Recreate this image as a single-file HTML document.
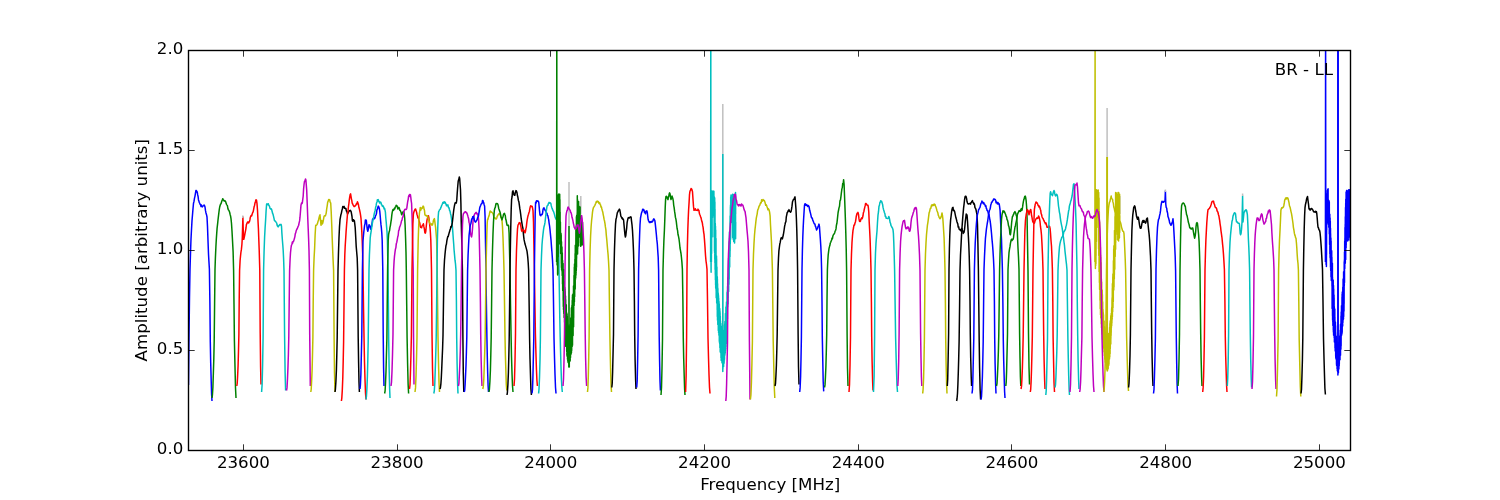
<!DOCTYPE html>
<html><head><meta charset="utf-8"><title>BR - LL bandpass</title>
<style>
html,body{margin:0;padding:0;background:#fff;}
body{width:1500px;height:500px;overflow:hidden;}
svg{display:block;}
svg text{font-family:"DejaVu Sans","Liberation Sans",sans-serif;font-size:16.67px;fill:#000;}
</style></head><body>
<svg width="1500" height="500" viewBox="0 0 1500 500">
<rect x="0" y="0" width="1500" height="500" fill="#ffffff"/>
<defs><clipPath id="ax"><rect x="188.5" y="50.5" width="1162.0" height="400.0"/></clipPath></defs>
<g clip-path="url(#ax)" fill="none" stroke-width="1.5" stroke-linejoin="round" stroke-linecap="butt">
<polyline points="188.5,385.0 189.0,337.3 189.5,297.1 190.0,269.4 190.5,253.0 191.0,239.0 191.5,229.5 192.0,220.6 192.5,214.8 193.0,208.8 193.5,203.2 194.0,201.4 194.5,198.1 195.0,196.1 195.4,193.5 195.9,190.6 196.4,190.5 196.8,191.9 197.2,191.8 197.7,194.9 198.1,196.5 198.5,199.9 198.9,201.1 199.3,202.5 199.8,203.5 200.2,204.5 200.6,204.7 201.0,206.5 201.4,205.0 201.9,206.2 202.3,206.9 202.7,206.1 203.2,205.9 203.6,205.6 204.1,205.0 204.6,205.8 205.0,207.0 205.5,210.7 206.0,213.0 206.5,214.7 207.0,217.0 207.5,226.6 208.0,240.8 208.5,254.0 208.9,261.0 209.4,269.3 209.9,303.4 210.3,342.1 210.7,362.8 211.2,380.9 211.6,394.3 212.0,401.0" stroke="#0000ff"/>
<polyline points="212.0,398.0 212.4,395.2 212.9,387.3 213.3,375.1 213.8,359.2 214.2,340.4 214.6,304.1 215.0,269.5 215.4,257.8 215.9,246.7 216.3,239.5 216.7,233.6 217.1,228.1 217.6,223.9 218.0,220.0 218.4,216.7 218.9,212.5 219.3,209.4 219.7,207.0 220.1,205.5 220.6,204.0 221.0,203.9 221.4,202.5 221.9,200.8 222.3,200.1 222.7,198.7 223.2,199.5 223.6,200.0 224.0,200.8 224.4,201.0 224.9,200.7 225.3,201.4 225.7,201.8 226.2,203.6 226.6,204.4 227.0,205.1 227.4,205.6 227.9,208.6 228.3,209.7 228.8,210.2 229.2,211.1 229.7,212.5 230.1,214.4 230.6,216.2 231.0,218.7 231.5,223.5 232.0,231.3 232.5,240.4 233.1,251.6 233.6,270.0 234.0,304.0 234.4,340.4 235.0,366.9 235.5,387.7 236.0,398.0" stroke="#008000"/>
<polyline points="236.8,386.0 237.2,383.5 237.6,376.3 238.1,365.2 238.5,350.8 238.9,333.8 239.2,300.3 239.6,270.1 240.1,260.5 240.5,256.2 240.9,252.5 241.4,249.4 241.9,244.5 242.3,237.9 242.9,217.1 243.5,239.2 243.8,239.3 244.2,237.5 244.6,235.7 245.1,232.9 245.6,230.3 246.0,228.0 246.4,224.7 246.9,223.7 247.3,222.5 247.7,222.0 248.1,221.9 248.6,223.0 249.0,221.7 249.4,221.7 249.9,219.9 250.3,217.4 250.8,216.1 251.2,215.5 251.7,215.9 252.2,214.0 252.7,212.6 253.2,211.6 253.6,209.6 254.1,206.8 254.5,205.7 255.0,203.0 255.5,201.5 256.0,199.8 256.5,200.2 257.0,203.6 257.5,210.3 258.0,220.9 258.4,228.2 258.8,239.4 259.2,250.0 259.8,270.7 260.2,333.0 260.6,366.9 261.0,384.5" stroke="#ff0000"/>
<polyline points="261.6,392.0 262.1,384.8 262.6,365.5 263.1,337.1 263.6,269.8 264.1,250.7 264.6,237.0 265.1,227.9 265.6,220.1 266.1,210.7 266.6,204.3 267.0,203.8 267.5,204.2 267.9,204.6 268.3,203.7 268.7,205.1 269.1,205.5 269.6,206.6 270.0,208.4 270.4,208.9 270.9,209.2 271.3,208.9 271.8,210.1 272.2,211.7 272.7,213.7 273.1,214.5 273.6,216.6 274.0,218.4 274.4,220.4 274.9,220.9 275.3,221.3 275.8,221.8 276.2,222.4 276.7,223.1 277.1,225.1 277.6,226.3 278.0,226.7 278.4,226.8 278.9,225.4 279.3,225.3 279.7,224.5 280.1,224.5 280.6,224.9 281.0,224.3 281.5,226.3 281.9,233.4 282.4,240.3 282.8,245.0 283.2,250.5 283.6,258.6 284.0,270.4 284.6,336.3 285.1,372.0 285.6,390.5" stroke="#00bfbf"/>
<polyline points="286.5,390.5 287.0,387.9 287.4,380.5 287.9,368.9 288.4,354.0 288.8,336.3 289.2,302.1 289.6,270.6 290.1,259.2 290.5,252.6 291.0,248.0 291.4,245.4 291.9,244.5 292.3,242.1 292.7,243.2 293.1,241.4 293.6,241.2 294.0,239.9 294.4,238.5 294.9,236.6 295.3,233.7 295.8,232.6 296.2,230.7 296.7,229.5 297.2,228.8 297.7,227.4 298.2,226.2 298.6,225.5 299.1,222.9 299.6,220.9 300.0,217.2 300.5,211.1 301.0,205.1 301.5,203.1 301.9,203.7 302.3,203.1 302.7,199.8 303.2,196.0 303.6,188.9 304.1,184.0 304.5,181.4 305.0,180.6 305.5,178.9 305.9,180.1 306.3,185.1 306.7,190.1 307.2,203.1 307.8,219.2 308.2,228.7 308.6,238.6 309.0,250.6 309.4,270.5 309.7,333.8 310.3,386.0" stroke="#bf00bf"/>
<polyline points="310.8,392.0 311.2,389.3 311.6,381.8 312.1,370.2 312.5,355.0 312.9,337.1 313.2,302.6 313.6,270.3 314.1,257.5 314.6,248.7 315.1,235.3 315.7,225.2 316.2,225.2 316.6,225.2 317.1,224.4 317.5,223.4 318.0,221.5 318.5,220.3 319.0,218.0 319.5,216.0 320.0,214.8 320.5,220.2 321.0,225.3 321.4,222.7 321.8,220.6 322.1,222.2 322.5,223.9 323.0,222.1 323.5,219.3 324.0,216.6 324.4,215.7 324.9,215.7 325.3,215.9 325.8,214.5 326.2,213.1 326.7,208.9 327.2,205.8 327.7,202.1 328.2,201.2 328.7,199.5 329.2,199.5 329.7,199.9 330.2,202.3 330.7,202.9 331.2,211.9 331.8,226.5 332.2,238.3 332.7,250.8 333.1,260.1 333.6,270.6 334.1,337.1 334.5,373.3 335.0,392.0" stroke="#bfbf00"/>
<polyline points="335.0,392.0 335.4,389.3 335.9,381.8 336.4,370.2 336.8,355.0 337.2,337.1 337.6,303.6 338.0,270.5 338.5,251.9 339.0,237.5 339.5,226.6 340.0,219.7 340.5,216.9 340.9,214.7 341.4,213.1 341.8,210.9 342.3,209.0 342.8,206.5 343.2,206.8 343.6,207.5 344.1,206.4 344.6,208.3 345.0,208.0 345.4,208.4 345.9,208.5 346.4,211.2 346.8,211.4 347.2,212.8 347.6,213.9 348.0,213.0 348.4,212.4 348.9,211.3 349.4,210.9 349.8,210.7 350.2,210.3 350.7,210.8 351.2,211.8 351.6,214.2 352.0,216.5 352.4,220.8 352.8,221.2 353.2,219.8 353.6,219.7 354.0,221.0 354.4,220.8 354.8,224.1 355.2,227.6 355.8,238.6 356.2,246.4 356.7,252.3 357.2,258.0 357.6,270.0 358.2,337.1 358.6,362.4 359.0,382.2 359.4,392.0" stroke="#000000"/>
<polyline points="341.4,401.0 341.8,398.1 342.3,390.1 342.8,377.5 343.2,361.3 343.6,342.1 344.0,305.7 344.4,270.3 344.8,255.0 345.2,246.0 345.6,239.7 346.1,231.5 346.6,224.7 347.0,220.0 347.5,213.9 348.0,211.3 348.4,207.0 348.9,203.5 349.3,199.8 349.7,197.1 350.2,194.4 350.6,193.9 351.0,196.3 351.4,198.8 351.8,200.5 352.2,203.2 352.7,204.0 353.2,205.2 353.6,205.6 354.1,206.6 354.6,206.5 355.1,205.9 355.5,205.7 356.0,204.9 356.5,203.5 356.9,203.9 357.4,201.8 357.9,202.9 358.4,204.4 358.9,207.5 359.4,209.1 359.8,211.0 360.2,212.8 360.6,215.3 361.0,218.3 361.4,224.5 361.8,231.6 362.2,240.8 362.6,252.5 363.0,270.4 363.5,306.2 364.1,341.2 364.5,361.7 365.0,379.6 365.5,392.9 366.0,399.5" stroke="#ff0000"/>
<polyline points="360.0,389.0 360.4,385.0 360.9,373.9 361.3,356.9 361.8,335.4 362.4,270.0 363.0,241.0 363.4,236.2 363.8,232.0 364.2,228.7 364.6,225.3 365.0,224.0 365.4,219.9 365.8,220.1 366.3,220.3 366.8,225.2 367.3,229.6 367.8,231.2 368.2,229.8 368.6,226.9 369.0,224.8 369.4,224.9 369.9,225.8 370.3,227.8 370.8,229.3 371.2,227.6 371.7,225.6 372.2,222.2 372.6,219.1 373.1,219.0 373.6,219.1 374.0,217.7 374.5,218.6 375.0,217.8 375.5,215.9 376.0,215.0 376.5,213.3 376.9,209.9 377.4,209.1 377.9,207.2 378.3,206.1 378.9,207.2 379.4,208.8 379.8,211.5 380.2,215.7 380.6,220.7 381.0,224.9 381.4,228.2 381.8,233.1 382.2,240.5 382.8,270.6 383.2,333.8 383.6,368.2 384.0,386.0" stroke="#0000ff"/>
<polyline points="366.0,399.5 366.4,396.7 366.9,388.7 367.4,376.3 367.8,360.2 368.2,341.2 368.6,305.3 369.0,270.0 369.4,255.2 369.8,246.6 370.2,238.2 370.6,234.6 371.1,231.6 371.6,228.3 372.0,225.2 372.4,223.0 372.9,220.3 373.4,218.1 373.8,216.2 374.2,214.0 374.7,212.0 375.2,210.2 375.6,207.5 376.1,205.7 376.5,203.0 377.0,202.0 377.4,199.7 377.9,200.9 378.3,199.6 378.8,201.5 379.2,201.5 379.6,203.0 380.1,202.6 380.6,202.0 381.0,202.8 381.5,204.7 382.0,205.1 382.4,206.4 382.9,205.9 383.4,206.4 383.8,207.8 384.2,209.1 384.6,208.4 385.0,210.2 385.4,212.1 385.8,217.7 386.2,222.0 386.6,226.9 387.0,231.6 387.4,240.2 388.0,270.2 388.4,305.4 388.7,340.4 389.1,366.9 389.6,387.7 390.0,398.0" stroke="#00bfbf"/>
<polyline points="384.6,393.5 385.1,390.8 385.5,383.2 386.0,371.4 386.4,356.1 386.9,337.9 387.2,305.9 387.6,269.4 388.2,240.4 388.6,234.6 389.1,232.0 389.6,230.5 390.0,227.3 390.4,225.6 390.9,222.2 391.4,219.1 391.8,215.2 392.2,212.4 392.6,210.7 393.0,209.5 393.4,210.4 393.9,209.7 394.4,208.3 394.8,208.9 395.2,207.3 395.7,206.6 396.2,205.3 396.6,205.7 397.1,206.0 397.5,207.6 397.9,209.0 398.4,208.1 398.8,207.3 399.3,208.2 399.8,210.2 400.2,210.2 400.6,211.2 401.1,212.5 401.6,214.7 402.0,214.3 402.5,213.1 403.0,211.8 403.5,211.5 403.9,212.1 404.3,214.6 404.7,218.0 405.1,224.8 405.6,238.8 406.0,252.4 406.3,269.8 406.7,304.2 407.1,337.9 407.6,363.5 408.1,383.6 408.6,393.5" stroke="#008000"/>
<polyline points="391.0,386.0 391.5,382.1 392.0,371.2 392.5,354.7 393.0,333.8 393.6,270.1 394.1,260.9 394.5,256.1 395.0,252.2 395.4,249.3 395.9,247.6 396.3,243.7 396.8,242.2 397.2,240.0 397.7,237.0 398.2,235.3 398.6,230.8 399.1,229.8 399.6,227.2 400.1,225.9 400.6,224.5 401.0,223.2 401.5,220.9 402.0,220.1 402.5,217.3 403.0,216.9 403.4,214.3 403.9,211.7 404.4,210.2 404.9,209.3 405.4,209.3 405.8,209.4 406.3,209.4 406.8,208.2 407.2,205.1 407.7,201.5 408.2,199.3 408.6,196.2 409.1,195.5 409.5,194.5 409.9,196.4 410.4,194.6 410.8,197.3 411.2,200.8 411.6,203.5 412.1,217.8 412.6,241.2 413.2,269.8 413.5,333.0 414.0,384.5" stroke="#bf00bf"/>
<polyline points="409.5,389.0 410.0,385.0 410.4,373.9 410.9,356.9 411.4,335.4 412.0,270.5 412.5,243.3 412.9,223.6 413.4,214.0 413.8,212.3 414.3,210.8 414.8,210.0 415.2,208.9 415.6,208.9 416.1,210.6 416.6,212.2 417.0,214.5 417.4,215.5 417.9,217.9 418.4,217.4 418.8,219.7 419.3,221.9 419.8,223.0 420.2,226.1 420.7,227.4 421.2,227.6 421.6,227.7 422.1,225.9 422.5,225.2 423.0,224.7 423.4,223.8 423.9,226.7 424.4,229.1 424.9,232.8 425.4,233.1 425.8,231.3 426.2,226.9 426.6,223.2 427.0,220.1 427.5,218.0 427.9,216.9 428.4,215.7 428.8,217.4 429.2,220.3 429.6,223.9 430.0,227.3 430.4,232.5 430.8,239.8 431.1,251.2 431.5,270.1 432.0,333.8 432.5,368.2 433.0,386.0" stroke="#ff0000"/>
<polyline points="415.0,392.0 415.5,387.9 416.0,376.5 416.5,359.1 417.0,337.1 417.6,270.3 418.2,240.6 418.6,228.6 419.0,219.0 419.4,213.5 419.9,210.0 420.3,207.4 420.8,210.2 421.2,208.1 421.7,208.7 422.2,208.3 422.7,207.0 423.1,206.1 423.6,206.7 424.1,209.3 424.5,210.5 424.9,214.7 425.4,215.3 425.8,215.4 426.3,215.9 426.8,215.6 427.2,215.9 427.7,216.4 428.2,218.9 428.6,219.1 429.1,221.4 429.6,222.6 430.1,223.9 430.6,224.0 431.0,224.5 431.5,223.9 432.0,225.2 432.5,224.7 433.0,222.9 433.4,220.6 433.9,219.4 434.4,218.6 434.8,221.4 435.2,224.5 435.6,227.4 436.1,233.5 436.6,239.8 437.2,269.3 437.6,304.4 438.0,337.1 438.5,362.4 439.0,382.2 439.5,392.0" stroke="#bfbf00"/>
<polyline points="433.8,393.5 434.3,390.8 434.8,383.2 435.2,371.4 435.7,356.1 436.2,337.9 436.6,307.9 437.0,269.7 437.4,239.6 437.8,226.5 438.2,216.7 438.6,211.9 439.1,210.8 439.5,209.8 439.9,209.5 440.4,209.0 440.8,207.5 441.2,207.0 441.7,205.3 442.1,204.5 442.5,203.6 442.9,202.5 443.4,202.3 443.8,203.3 444.3,201.8 444.7,202.6 445.2,202.2 445.6,203.5 446.1,204.2 446.5,205.7 447.0,205.0 447.4,205.7 447.9,204.9 448.3,206.9 448.7,207.9 449.1,207.8 449.6,210.6 450.0,210.9 450.5,213.7 451.0,215.4 451.5,219.0 452.0,223.0 452.4,226.6 452.9,233.2 453.3,239.0 453.7,244.0 454.1,250.2 454.6,255.6 455.0,260.2 455.5,263.9 456.0,270.4 456.4,300.2 456.7,337.9 457.1,363.5 457.6,383.6 458.0,393.5" stroke="#00bfbf"/>
<polyline points="440.0,389.0 440.4,387.7 440.9,383.8 441.3,377.7 441.7,369.5 442.1,359.6 442.6,348.2 443.0,335.4 443.5,301.6 444.0,269.7 444.5,260.0 445.0,254.2 445.5,249.4 446.0,245.4 446.4,244.3 446.9,240.5 447.3,238.6 447.8,236.4 448.2,236.5 448.7,234.5 449.1,233.1 449.6,231.6 450.0,229.9 450.4,229.0 450.9,226.5 451.4,227.0 451.8,225.3 452.3,222.7 452.8,218.4 453.2,214.6 453.7,210.3 454.2,207.1 454.7,204.5 455.2,202.7 455.8,202.9 456.3,203.0 456.8,199.8 457.2,193.4 457.7,186.8 458.2,181.2 458.8,179.3 459.3,176.9 459.7,178.7 460.1,184.5 460.5,189.8 460.9,203.2 461.2,220.6 461.6,235.4 462.0,249.8 462.4,269.7 462.9,337.1 463.3,373.3 463.8,392.0" stroke="#000000"/>
<polyline points="458.4,386.0 458.9,383.5 459.3,376.3 459.8,365.2 460.3,350.8 460.7,333.8 461.1,303.2 461.5,269.7 462.0,244.0 462.5,224.7 463.0,216.1 463.4,213.7 463.9,213.2 464.3,212.3 464.7,212.4 465.2,211.7 465.6,211.7 466.0,212.4 466.5,212.9 466.9,213.0 467.3,214.2 467.7,215.4 468.1,217.0 468.6,218.7 469.0,222.2 469.4,223.3 469.9,227.4 470.3,232.0 470.7,234.3 471.2,236.3 471.6,237.0 472.1,233.6 472.6,227.4 473.1,220.3 473.6,217.2 474.0,215.9 474.5,214.4 474.9,213.7 475.3,213.2 475.7,212.6 476.1,212.4 476.6,213.8 477.0,213.4 477.4,214.0 477.8,215.2 478.2,216.0 478.6,220.1 479.1,229.3 479.5,247.5 480.0,269.9 480.4,301.5 480.7,333.8 481.1,357.8 481.6,376.7 482.0,386.0" stroke="#bf00bf"/>
<polyline points="464.3,392.0 464.7,390.1 465.1,384.8 465.5,376.5 466.0,365.5 466.4,352.2 466.8,337.1 467.2,303.2 467.6,270.2 468.1,254.6 468.6,244.0 469.1,235.0 469.6,230.8 470.0,227.1 470.5,224.5 470.9,223.5 471.4,220.7 471.8,218.7 472.3,218.8 472.7,216.7 473.2,217.7 473.6,216.3 474.1,218.4 474.5,221.0 475.0,221.4 475.4,222.2 475.9,221.5 476.3,221.0 476.7,220.2 477.1,219.7 477.6,217.8 478.0,216.7 478.4,216.3 478.9,213.2 479.3,211.0 479.7,208.0 480.1,206.6 480.6,205.6 481.0,204.5 481.5,203.6 482.0,203.6 482.5,200.5 483.0,200.7 483.4,202.0 483.8,203.1 484.2,205.0 484.6,206.0 485.1,217.3 485.5,242.8 486.0,270.0 486.4,304.6 486.9,337.1 487.3,356.4 487.7,373.3 488.1,385.8 488.5,392.0" stroke="#0000ff"/>
<polyline points="482.8,389.0 483.3,386.4 483.8,379.1 484.2,367.7 484.7,352.9 485.2,335.4 485.6,303.6 486.0,270.3 486.4,251.7 486.8,235.2 487.2,223.2 487.6,219.1 488.0,219.2 488.5,217.0 488.9,216.2 489.4,214.2 489.8,212.2 490.2,210.9 490.7,211.5 491.1,212.2 491.6,212.1 492.0,212.4 492.4,212.9 492.9,213.5 493.3,214.3 493.7,216.4 494.1,217.9 494.6,217.8 495.0,217.9 495.4,218.3 495.9,219.0 496.3,218.9 496.8,218.0 497.2,216.1 497.7,215.8 498.1,214.8 498.6,214.2 499.0,213.5 499.4,213.8 499.9,214.3 500.3,215.2 500.7,216.2 501.1,217.3 501.6,219.0 502.0,220.4 502.5,226.9 503.0,237.7 503.5,252.6 504.0,270.0 504.5,302.5 505.0,336.3 505.4,355.3 505.9,372.0 506.3,384.4 506.8,390.5" stroke="#bfbf00"/>
<polyline points="489.0,392.0 489.4,389.3 489.9,381.8 490.4,370.2 490.8,355.0 491.2,337.1 491.6,303.9 492.0,269.8 492.5,249.6 493.0,233.4 493.5,221.7 494.0,214.1 494.4,210.0 494.9,208.0 495.3,207.3 495.7,205.0 496.1,203.5 496.6,203.6 497.0,203.8 497.4,203.6 497.9,204.4 498.3,206.1 498.7,208.4 499.1,209.5 499.6,210.9 500.0,212.0 500.5,214.2 501.0,217.2 501.5,218.1 502.0,219.9 502.5,218.0 503.0,216.9 503.5,214.4 504.0,213.6 504.4,213.4 504.9,214.6 505.3,215.5 505.7,219.1 506.1,220.1 506.6,223.0 507.0,225.1 507.4,225.4 507.8,225.3 508.2,225.1 508.6,225.8 509.1,233.5 509.5,250.0 510.0,269.8 510.5,303.8 511.1,337.1 511.5,356.4 512.0,373.3 512.5,385.8 513.0,392.0" stroke="#008000"/>
<polyline points="507.0,395.0 507.4,392.3 507.9,384.6 508.4,372.6 508.8,357.1 509.2,338.8 509.6,306.1 510.0,269.7 510.4,245.8 510.8,225.4 511.2,209.3 511.6,199.4 512.1,196.7 512.5,191.9 513.0,190.8 513.5,193.2 513.9,194.5 514.4,195.2 514.8,195.3 515.2,193.0 515.6,191.8 516.0,190.6 516.5,191.2 517.0,192.7 517.4,195.5 517.9,197.3 518.4,200.4 518.9,201.8 519.3,204.6 519.8,208.4 520.2,210.6 520.6,213.7 521.1,217.8 521.5,220.6 522.0,223.7 522.4,226.1 522.9,228.1 523.3,232.6 523.7,236.6 524.1,239.9 524.6,242.1 525.0,244.1 525.5,245.6 526.0,247.4 526.5,249.1 527.0,251.1 527.4,254.1 527.8,257.7 528.2,262.7 528.6,269.8 529.1,301.4 529.6,338.8 530.0,358.5 530.5,375.8 530.9,388.6 531.4,395.0" stroke="#000000"/>
<polyline points="514.0,386.0 514.5,379.2 515.0,360.8 515.5,333.8 516.0,269.8 516.5,250.2 517.0,238.4 517.5,228.9 518.0,225.0 518.5,224.5 519.0,222.9 519.5,222.6 520.0,222.8 520.5,224.5 521.0,227.1 521.5,230.4 522.0,231.4 522.4,230.3 522.8,230.0 523.2,229.7 523.6,230.2 524.1,230.5 524.5,231.9 525.0,232.8 525.4,232.0 525.9,228.6 526.3,227.1 526.7,223.4 527.1,220.3 527.6,217.7 528.0,215.8 528.5,214.3 528.9,212.7 529.4,211.4 529.8,208.9 530.2,207.1 530.7,205.7 531.1,206.5 531.6,206.5 532.1,206.3 532.5,207.7 533.0,210.6 533.5,222.2 533.9,244.6 534.4,270.5 534.9,303.5 535.4,333.8 535.9,352.1 536.4,368.2 536.9,380.1 537.4,386.0" stroke="#ff0000"/>
<polyline points="532.0,393.5 532.5,389.3 532.9,377.8 533.3,360.2 533.8,337.9 534.4,270.4 534.8,239.4 535.2,213.7 535.6,202.3 536.1,203.2 536.5,200.7 537.0,201.3 537.5,200.8 537.9,201.0 538.4,201.3 538.8,202.7 539.2,207.1 539.6,211.7 540.0,215.0 540.4,215.4 540.8,215.8 541.2,214.8 541.6,214.4 542.1,214.5 542.6,213.1 543.0,209.7 543.5,208.1 544.0,207.8 544.4,208.8 544.9,209.7 545.3,210.8 545.7,210.8 546.1,211.8 546.6,213.1 547.0,213.4 547.4,215.6 547.9,215.8 548.3,218.1 548.7,219.6 549.1,223.1 549.6,226.1 550.0,229.7 550.5,234.9 551.0,239.8 551.5,246.9 552.0,253.0 552.5,260.1 553.0,270.0 553.5,301.9 554.0,337.9 554.5,357.4 555.0,374.5 555.5,387.2 556.0,393.5" stroke="#0000ff"/>
<polyline points="538.6,393.5 539.0,389.3 539.5,377.8 540.0,360.2 540.4,337.9 541.0,269.8 541.5,255.6 542.0,244.8 542.5,238.8 543.0,234.2 543.5,229.9 544.0,226.7 544.5,225.0 545.0,222.4 545.5,218.0 546.0,213.3 546.5,209.6 547.0,206.2 547.4,205.7 547.9,205.3 548.3,203.7 548.7,203.3 549.1,202.4 549.6,203.1 550.0,202.8 550.4,202.9 550.9,203.7 551.3,205.9 551.7,207.2 552.1,208.4 552.6,209.6 553.0,210.7 553.4,211.2 553.9,212.6 554.3,213.9 554.7,215.4 555.1,217.0 555.6,218.3 556.0,219.1 556.5,217.2 557.0,215.8 557.5,215.4 558.0,214.6 558.5,235.1 559.0,270.5 559.4,294.1 559.8,318.3 560.2,337.1 560.6,352.7 561.0,366.9 561.4,378.9 561.9,387.6 562.3,392.0" stroke="#00bfbf"/>
<polyline points="569.0,346.0 569.0,182.0" stroke="#bfbfbf"/>
<polyline points="580.8,196.0 580.8,214.0" stroke="#bfbfbf"/>
<polyline points="556.6,262.0 556.8,20.0 556.9,250.0 557.1,265.1 557.2,197.7 557.3,249.7 557.3,195.1 557.4,255.5 557.5,206.8 557.6,274.4 557.7,213.9 557.7,274.9 557.8,210.1 557.9,274.1 558.0,195.6 558.1,255.3 558.1,226.6 558.2,256.9 558.3,198.7 558.4,232.8 558.5,222.3 558.5,227.6 558.6,202.0 558.7,216.0 558.8,194.0 558.9,219.4 558.9,199.3 559.0,237.7 559.1,195.3 559.2,236.3 559.3,214.9 559.3,238.3 559.4,207.7 559.5,225.9 559.6,201.5 559.7,230.2 559.7,194.3 559.8,244.1 559.9,199.6 560.0,231.2 560.1,212.1 560.1,244.2 560.2,222.4 560.3,244.3 560.4,222.1 560.5,240.7 560.5,236.4 560.6,253.6 560.7,236.3 560.8,251.4 560.9,244.9 560.9,250.0 561.0,233.2 561.1,253.1 561.2,234.8 561.3,263.5 561.3,242.9 561.4,267.4 561.5,241.7 561.6,269.9 561.7,246.2 561.7,266.2 561.8,247.3 561.9,266.6 562.0,247.2 562.1,271.8 562.1,252.2 562.2,275.6 562.3,253.0 562.4,275.1 562.5,263.0 562.5,284.1 562.6,260.6 562.7,290.6 562.8,263.8 562.9,289.4 562.9,272.7 563.0,289.7 563.1,263.5 563.2,300.5 563.3,270.9 563.3,306.5 563.4,270.1 563.5,309.4 563.6,269.6 563.7,311.7 563.7,280.2 563.8,313.5 563.9,274.9 564.0,313.5 564.1,287.0 564.1,317.5 564.2,281.4 564.3,315.3 564.4,291.7 564.5,312.2 564.5,293.2 564.6,322.3 564.7,287.2 564.8,323.6 564.9,297.6 564.9,314.6 565.0,289.1 565.1,329.9 565.2,291.6 565.3,335.1 565.3,296.5 565.4,335.7 565.5,295.9 565.6,346.3 565.7,299.8 565.7,345.0 565.8,304.2 565.9,333.0 566.0,308.7 566.1,345.1 566.1,309.0 566.2,343.2 566.3,304.7 566.4,338.7 566.5,316.3 566.5,340.8 566.6,318.6 566.7,351.6 566.8,313.0 566.9,354.9 566.9,318.4 567.0,356.1 567.1,314.2 567.2,356.6 567.3,316.3 567.3,356.6 567.4,317.7 567.5,359.3 567.6,319.8 567.7,360.1 567.7,323.1 567.8,361.2 567.9,333.4 568.0,357.2 568.1,325.1 568.1,362.4 568.2,327.0 568.3,362.4 568.4,326.3 568.5,355.4 568.5,340.1 568.6,363.2 568.7,329.7 568.8,367.1 568.9,326.5 568.9,366.5 569.0,327.7 569.1,357.9 569.2,326.9 569.3,366.9 569.3,339.0 569.4,362.1 569.5,326.8 569.6,361.0 569.7,325.9 569.7,360.2 569.8,338.1 569.9,353.1 570.0,330.9 570.1,361.1 570.1,324.5 570.2,360.6 570.3,329.1 570.4,356.0 570.5,327.7 570.5,357.5 570.6,318.0 570.7,348.4 570.8,329.8 570.9,346.2 570.9,323.4 571.0,345.8 571.1,320.2 571.2,354.0 571.3,314.2 571.3,351.7 571.4,308.1 571.5,352.6 571.6,307.4 571.7,350.4 571.7,312.0 571.8,335.3 571.9,305.5 572.0,334.5 572.1,316.8 572.1,332.6 572.2,300.5 572.3,346.3 572.4,297.1 572.5,345.2 572.5,295.0 572.6,336.6 572.7,306.4 572.8,328.6 572.9,294.2 572.9,331.0 573.0,299.2 573.1,335.6 573.2,293.7 573.3,319.3 573.3,294.5 573.4,321.4 573.5,286.1 573.6,326.7 573.7,289.7 573.7,317.8 573.8,285.6 573.9,299.6 574.0,275.5 574.1,305.4 574.1,281.5 574.2,298.1 574.3,267.3 574.4,301.9 574.5,263.9 574.5,288.7 574.6,268.9 574.7,296.5 574.8,266.2 574.9,281.1 574.9,259.2 575.0,289.8 575.1,253.6 575.2,288.7 575.3,245.3 575.3,272.1 575.4,247.7 575.5,279.3 575.6,251.0 575.7,278.0 575.7,245.6 575.8,267.2 575.9,230.0 576.0,275.2 576.1,226.6 576.1,273.0 576.2,225.6 576.3,270.5 576.4,216.7 576.5,267.3 576.5,239.7 576.6,258.4 576.7,215.3 576.8,246.9 576.9,231.6 576.9,250.9 577.0,231.1 577.1,246.1 577.2,212.4 577.3,243.6 577.3,195.7 577.4,244.8 577.5,199.4 577.6,254.1 577.7,221.3 577.7,248.7 577.8,208.0 577.9,230.0 578.0,210.3 578.1,240.8 578.1,208.8 578.2,234.2 578.3,218.2 578.4,245.9 578.5,210.2 578.5,242.7 578.6,201.4 578.7,227.0 578.8,208.4 578.9,233.8 578.9,217.2 579.0,222.0 579.1,206.3 579.2,232.2 579.3,208.3 579.3,235.3 579.4,214.7 579.5,237.0 579.6,209.2 579.7,236.2 579.7,224.1 579.8,229.3 579.9,221.6 580.0,221.8 580.1,207.1 580.1,236.8 580.2,231.7 580.3,232.8 580.4,216.2 580.5,245.8 580.5,221.7 580.6,246.3 580.7,218.4 580.8,246.3 580.9,226.8 580.9,234.4 581.0,232.1 581.1,245.3 581.2,228.2 581.3,237.1 581.3,218.2 581.4,232.8 581.5,234.1 581.6,244.4 581.7,233.9 581.7,241.8 581.8,224.6 581.9,231.0 582.0,231.6 582.1,245.1 582.1,224.1 582.2,240.0 582.3,222.6 582.4,244.7 582.5,222.3 582.5,236.4" stroke="#008000"/>
<polyline points="569.0,346.0 569.0,226.0" stroke="#008000"/>
<polyline points="563.0,386.0 563.5,379.2 564.0,360.8 564.5,333.8 565.0,270.1 565.5,234.0 566.0,216.2 566.4,213.2 566.9,210.8 567.3,210.4 567.7,208.0 568.1,207.0 568.6,207.8 569.0,208.7 569.4,209.5 569.9,209.9 570.3,210.8 570.7,212.4 571.1,212.8 571.6,214.7 572.0,217.3 572.4,218.5 572.9,220.6 573.3,223.0 573.8,225.0 574.2,227.2 574.7,227.9 575.1,229.1 575.6,228.1 576.0,228.5 576.5,227.3 577.0,225.3 577.5,225.2 578.0,224.7 578.5,226.6 578.9,230.3 579.4,233.2 579.8,231.2 580.3,226.6 580.7,221.2 581.2,218.7 581.6,215.4 582.1,218.7 582.5,223.0 583.0,230.0 583.5,239.4 583.9,251.4 584.4,269.9 584.8,301.1 585.2,333.8 585.6,357.8 586.1,376.7 586.6,386.0" stroke="#bf00bf"/>
<polyline points="587.5,392.0 587.9,387.9 588.3,376.5 588.7,359.1 589.1,337.1 589.6,270.2 590.1,249.4 590.6,235.8 591.1,226.8 591.6,220.5 592.1,216.3 592.5,212.1 593.0,209.2 593.5,207.4 593.9,207.0 594.4,206.1 594.9,205.3 595.3,204.2 595.8,203.3 596.2,201.7 596.7,202.3 597.1,200.9 597.6,201.8 598.0,201.4 598.5,201.7 598.9,203.4 599.3,203.0 599.7,202.8 600.1,204.4 600.6,205.0 601.0,207.1 601.4,206.9 601.9,209.0 602.3,210.5 602.8,212.2 603.2,214.6 603.7,216.9 604.1,219.4 604.6,221.3 605.0,223.6 605.4,226.9 605.9,229.9 606.3,235.1 606.7,238.8 607.2,244.9 607.6,249.5 608.1,254.9 608.5,260.8 609.0,270.2 609.4,301.0 609.9,337.1 610.3,356.4 610.7,373.3 611.1,385.8 611.5,392.0" stroke="#bfbf00"/>
<polyline points="611.8,387.5 612.2,383.5 612.6,372.5 613.0,355.8 613.5,334.6 614.0,269.8 614.5,248.7 615.0,234.5 615.5,224.1 616.0,219.2 616.4,217.9 616.9,215.1 617.3,212.8 617.7,212.0 618.1,211.5 618.5,210.3 619.0,210.0 619.4,209.1 619.8,209.8 620.3,212.6 620.7,215.2 621.1,216.8 621.6,217.3 622.0,218.5 622.4,218.1 622.8,219.2 623.2,219.0 623.6,220.3 624.0,224.6 624.5,230.1 625.0,235.1 625.4,237.0 625.8,235.6 626.3,231.2 626.7,227.8 627.1,222.7 627.6,220.1 628.0,218.4 628.4,217.6 628.9,218.0 629.3,218.0 629.7,217.5 630.2,217.0 630.6,216.8 631.1,217.2 631.5,220.8 632.0,224.8 632.5,230.6 633.0,239.7 633.5,251.4 634.0,269.7 634.4,301.0 634.7,335.4 635.1,360.1 635.6,379.5 636.0,389.0" stroke="#000000"/>
<polyline points="636.7,387.5 637.2,380.6 637.6,361.9 638.1,334.6 638.6,270.3 639.1,250.8 639.6,235.6 640.0,224.8 640.5,218.0 641.0,215.4 641.4,213.3 641.9,211.9 642.3,210.8 642.7,209.2 643.2,210.1 643.6,209.3 644.1,210.5 644.5,212.6 645.0,212.5 645.5,213.8 645.9,211.2 646.4,211.2 646.8,210.8 647.3,212.5 647.7,216.1 648.1,219.3 648.6,221.1 649.0,221.3 649.4,222.5 649.9,221.7 650.3,222.1 650.7,222.5 651.1,221.4 651.6,221.5 652.0,222.1 652.5,221.5 653.0,220.7 653.4,219.3 653.9,218.9 654.4,219.7 654.9,220.8 655.4,225.1 655.9,229.9 656.4,235.0 656.8,239.4 657.3,243.8 657.7,250.1 658.2,257.4 658.6,270.2 659.2,336.3 659.6,361.2 660.0,380.8 660.4,390.5" stroke="#0000ff"/>
<polyline points="661.0,395.0 661.5,387.7 662.0,367.8 662.5,338.8 663.0,269.8 663.5,251.8 663.9,240.5 664.4,230.2 664.8,219.7 665.2,207.9 665.6,199.3 666.0,196.4 666.5,196.3 667.0,197.3 667.5,198.7 668.0,199.6 668.4,196.8 668.8,196.1 669.2,193.8 669.6,192.9 670.1,194.0 670.5,197.3 671.0,199.5 671.5,198.0 672.0,196.1 672.4,197.2 672.9,198.8 673.3,200.8 673.7,205.3 674.1,207.4 674.6,211.4 675.0,213.8 675.4,217.2 675.9,219.1 676.3,221.7 676.7,225.1 677.1,228.5 677.6,230.7 678.0,234.5 678.5,236.3 679.0,239.0 679.5,243.0 680.0,248.0 680.5,250.7 681.0,253.5 681.4,257.0 681.9,262.1 682.4,269.4 682.9,301.0 683.3,338.8 683.7,358.5 684.2,375.8 684.6,388.6 685.0,395.0" stroke="#008000"/>
<polyline points="685.6,392.0 686.1,376.5 686.6,337.1 687.0,270.3 687.4,246.3 687.8,230.0 688.2,219.1 688.6,210.0 689.1,202.1 689.5,194.6 690.0,191.0 690.5,190.4 691.0,188.6 691.5,188.7 692.0,189.9 692.5,191.7 693.0,199.4 693.5,206.4 694.0,210.3 694.4,209.6 694.9,209.9 695.3,208.7 695.8,210.1 696.2,210.3 696.7,210.2 697.1,210.3 697.6,210.4 698.0,209.1 698.4,210.0 698.9,210.4 699.3,213.0 699.7,214.5 700.1,215.2 700.6,216.8 701.0,217.6 701.4,219.5 701.9,221.6 702.3,222.7 702.7,225.4 703.1,227.3 703.6,232.0 704.0,234.1 704.5,240.1 705.0,247.1 705.5,255.2 706.0,261.0 706.5,264.5 707.0,269.4 707.5,300.8 708.0,337.9 708.5,357.4 709.0,374.5 709.5,387.2 710.0,393.5" stroke="#ff0000"/>
<polyline points="722.8,352.5 722.8,104.0" stroke="#bfbfbf"/>
<polyline points="735.5,196.0 735.5,214.0" stroke="#bfbfbf"/>
<polyline points="710.6,262.0 710.8,20.0 710.9,250.0 711.1,272.2 711.2,213.3 711.3,257.0 711.3,190.8 711.4,261.8 711.5,217.1 711.6,253.6 711.7,191.9 711.7,228.3 711.8,226.6 711.9,225.6 712.0,192.5 712.1,237.0 712.1,190.9 712.2,207.6 712.3,193.3 712.4,217.7 712.5,195.6 712.5,203.9 712.6,203.8 712.7,212.2 712.8,191.9 712.9,205.4 712.9,197.6 713.0,208.3 713.1,191.3 713.2,215.2 713.3,200.7 713.3,215.3 713.4,191.2 713.5,208.0 713.6,203.0 713.7,214.0 713.7,191.5 713.8,215.0 713.9,191.3 714.0,217.3 714.1,201.5 714.1,237.0 714.2,206.1 714.3,219.8 714.4,197.1 714.5,250.9 714.5,207.5 714.6,252.4 714.7,197.9 714.8,259.2 714.9,202.1 714.9,262.8 715.0,209.1 715.1,269.6 715.2,224.9 715.3,274.4 715.3,223.4 715.4,280.1 715.5,226.3 715.6,285.1 715.7,229.9 715.7,288.3 715.8,243.9 715.9,285.5 716.0,238.5 716.1,290.4 716.1,258.8 716.2,297.7 716.3,259.3 716.4,297.7 716.5,255.9 716.5,292.0 716.6,258.8 716.7,303.1 716.8,268.7 716.9,294.6 716.9,267.1 717.0,302.7 717.1,277.7 717.2,310.0 717.3,276.8 717.3,316.6 717.4,279.0 717.5,320.3 717.6,283.6 717.7,315.5 717.7,287.4 717.8,324.4 717.9,288.4 718.0,317.6 718.1,300.1 718.1,323.0 718.2,292.9 718.3,330.4 718.4,294.8 718.5,330.4 718.5,295.7 718.6,332.7 718.7,298.1 718.8,324.8 718.9,312.1 718.9,335.3 719.0,301.5 719.1,328.1 719.2,303.8 719.3,340.9 719.3,304.3 719.4,342.2 719.5,309.1 719.6,342.3 719.7,308.4 719.7,343.8 719.8,309.6 719.9,347.8 720.0,311.5 720.1,348.1 720.1,313.2 720.2,351.8 720.3,316.2 720.4,352.6 720.5,321.1 720.5,351.1 720.6,325.6 720.7,350.7 720.8,326.5 720.9,347.8 720.9,323.4 721.0,357.9 721.1,335.6 721.2,360.5 721.3,331.4 721.3,356.8 721.4,326.2 721.5,354.3 721.6,337.6 721.7,359.2 721.7,335.1 721.8,356.7 721.9,329.1 722.0,362.7 722.1,332.7 722.1,358.1 722.2,338.6 722.3,359.2 722.4,335.0 722.5,358.4 722.5,336.8 722.6,363.7 722.7,330.9 722.8,371.4 722.9,330.5 722.9,368.8 723.0,330.6 723.1,360.0 723.2,334.5 723.3,363.3 723.3,335.4 723.4,361.4 723.5,332.7 723.6,366.5 723.7,337.2 723.7,358.3 723.8,331.6 723.9,360.8 724.0,333.3 724.1,363.3 724.1,333.5 724.2,361.5 724.3,325.1 724.4,360.3 724.5,330.3 724.5,359.3 724.6,329.0 724.7,346.0 724.8,323.4 724.9,355.2 724.9,321.6 725.0,349.6 725.1,324.8 725.2,349.3 725.3,320.9 725.3,353.0 725.4,313.6 725.5,350.8 725.6,318.9 725.7,349.1 725.7,313.7 725.8,349.0 725.9,307.1 726.0,346.6 726.1,311.6 726.1,339.2 726.2,309.7 726.3,343.6 726.4,304.8 726.5,340.1 726.5,302.0 726.6,341.6 726.7,309.0 726.8,339.6 726.9,309.5 726.9,324.7 727.0,292.4 727.1,329.5 727.2,299.5 727.3,314.0 727.3,290.7 727.4,318.9 727.5,286.6 727.6,304.7 727.7,282.8 727.7,307.1 727.8,278.0 727.9,304.4 728.0,283.6 728.1,304.1 728.1,276.7 728.2,298.0 728.3,273.8 728.4,291.6 728.5,260.2 728.5,284.1 728.6,258.1 728.7,291.5 728.8,250.4 728.9,284.9 728.9,248.7 729.0,283.8 729.1,241.5 729.2,279.1 729.3,238.1 729.3,265.9 729.4,232.1 729.5,263.4 729.6,237.8 729.7,266.9 729.7,235.5 729.8,255.1 729.9,230.3 730.0,256.7 730.1,215.9 730.1,251.1 730.2,223.9 730.3,243.7 730.4,206.7 730.5,236.6 730.5,205.0 730.6,239.2 730.7,197.0 730.8,217.0 730.9,196.4 730.9,210.8 731.0,195.1 731.1,222.5 731.2,199.6 731.3,219.8 731.3,196.2 731.4,204.1 731.5,203.9 731.6,206.6 731.7,200.0 731.7,203.7 731.8,206.7 731.9,210.6 732.0,200.7 732.1,218.3 732.1,201.6 732.2,210.1 732.3,202.6 732.4,208.6 732.5,194.3 732.5,223.1 732.6,213.2 732.7,237.5 732.8,203.4 732.9,237.1 732.9,198.1 733.0,224.7 733.1,222.2 733.2,239.3 733.3,209.8 733.3,238.2 733.4,206.3 733.5,235.6 733.6,194.6 733.7,241.6 733.7,195.6 733.8,218.8 733.9,204.3 734.0,240.2 734.1,219.4 734.1,215.4 734.2,202.7 734.3,242.1 734.4,195.2 734.5,243.0 734.5,199.4 734.6,243.0 734.7,196.4 734.8,239.3 734.9,206.7 734.9,219.4 735.0,213.3 735.1,235.1 735.2,201.6 735.3,231.8 735.3,200.4 735.4,237.2 735.5,192.4 735.6,238.8 735.7,221.9" stroke="#00bfbf"/>
<polyline points="722.8,352.5 722.8,154.0" stroke="#00bfbf"/>
<polyline points="725.8,401.0 726.2,396.6 726.6,384.3 727.0,365.7 727.5,342.1 728.0,269.9 728.5,253.6 729.0,243.5 729.5,236.4 730.0,229.5 730.4,224.2 730.9,219.6 731.3,215.5 731.7,211.0 732.1,207.8 732.6,204.8 733.0,201.4 733.5,199.0 734.0,197.4 734.5,194.3 735.0,194.4 735.5,194.5 736.0,199.4 736.5,200.3 737.0,203.4 737.4,204.6 737.9,204.5 738.3,205.7 738.7,206.0 739.1,204.4 739.6,205.0 740.0,204.7 740.5,205.7 741.0,206.0 741.5,203.9 742.0,204.9 742.4,204.8 742.9,205.3 743.3,206.6 743.7,208.0 744.1,209.6 744.6,210.9 745.0,211.1 745.5,214.6 746.0,217.7 746.5,223.8 747.0,229.9 747.5,235.3 748.0,241.3 748.5,252.0 749.0,269.8 749.4,341.2 750.0,399.5" stroke="#bf00bf"/>
<polyline points="750.4,399.5 750.9,395.1 751.4,383.0 751.9,364.6 752.4,341.2 753.0,269.7 753.5,253.8 754.0,243.2 754.5,235.0 755.0,229.4 755.4,226.0 755.9,221.4 756.3,218.2 756.7,216.2 757.1,214.3 757.6,210.6 758.0,209.3 758.5,208.3 758.9,206.7 759.4,205.7 759.8,205.3 760.3,203.5 760.7,202.6 761.2,202.9 761.6,199.8 762.1,201.3 762.5,200.7 763.0,199.4 763.4,200.4 763.9,200.3 764.3,200.5 764.8,201.8 765.2,203.0 765.7,205.3 766.1,204.7 766.6,205.4 767.0,206.8 767.4,207.7 767.9,209.8 768.3,208.7 768.7,209.2 769.2,210.4 769.6,212.2 770.1,215.9 770.5,224.8 771.0,233.5 771.5,242.6 771.9,254.2 772.4,270.0 772.8,303.9 773.2,340.4 773.8,366.9 774.3,387.7 774.8,398.0" stroke="#bfbf00"/>
<polyline points="775.0,386.0 775.5,383.5 775.9,376.3 776.4,365.2 776.8,350.8 777.2,333.8 777.6,301.0 778.0,270.1 778.5,257.9 778.9,250.9 779.4,247.0 779.8,244.0 780.2,242.4 780.6,240.2 781.0,238.1 781.5,238.2 781.9,237.6 782.4,238.9 782.8,237.0 783.3,235.0 783.7,232.6 784.1,230.0 784.6,226.4 785.0,224.7 785.4,222.7 785.9,221.7 786.3,216.8 786.8,214.6 787.2,212.5 787.7,212.1 788.1,210.7 788.6,211.1 789.0,209.6 789.5,211.4 790.0,211.6 790.5,212.2 791.0,211.5 791.5,209.4 792.0,206.2 792.5,201.7 793.0,200.5 793.5,199.4 794.0,199.2 794.5,197.9 795.0,196.9 795.5,203.0 796.0,209.7 796.4,218.7 796.8,230.4 797.2,246.1 797.6,270.2 798.1,333.0 798.5,366.9 799.0,384.5" stroke="#000000"/>
<polyline points="799.7,392.0 800.1,387.9 800.6,376.5 801.0,359.1 801.4,337.1 802.0,269.5 802.4,250.5 802.8,236.9 803.2,227.1 803.6,219.3 804.1,211.3 804.5,205.2 805.0,203.7 805.4,203.9 805.9,205.3 806.3,205.1 806.7,204.6 807.1,205.6 807.6,206.5 808.0,205.4 808.4,205.7 808.9,206.2 809.3,208.0 809.7,210.3 810.1,211.8 810.6,213.6 811.0,215.3 811.4,217.3 811.9,218.0 812.3,218.2 812.7,220.2 813.1,220.8 813.6,222.2 814.0,223.1 814.4,224.0 814.9,223.9 815.3,226.2 815.7,226.6 816.1,228.4 816.6,230.0 817.0,229.2 817.5,228.4 818.0,226.6 818.5,225.6 819.0,224.1 819.5,227.0 819.9,233.1 820.4,239.9 820.8,246.1 821.2,254.8 821.6,269.5 822.0,301.8 822.3,336.8 822.8,361.9 823.2,381.7 823.7,391.4" stroke="#0000ff"/>
<polyline points="824.6,387.5 825.0,384.9 825.4,377.7 825.9,366.5 826.3,351.9 826.7,334.6 827.0,300.8 827.4,269.7 827.8,261.0 828.2,254.9 828.6,251.7 829.0,248.6 829.4,246.9 829.9,245.3 830.3,243.0 830.7,242.3 831.1,241.2 831.6,240.0 832.0,238.1 832.4,238.9 832.9,236.0 833.3,235.0 833.8,234.1 834.2,234.1 834.7,232.7 835.1,231.1 835.6,230.3 836.0,228.9 836.4,225.3 836.9,223.3 837.3,219.8 837.7,216.2 838.1,212.5 838.6,210.0 839.0,207.9 839.5,206.2 840.0,200.8 840.5,199.8 841.0,196.2 841.4,192.6 841.9,188.9 842.3,187.6 842.7,183.5 843.2,183.5 843.6,179.7 844.1,184.5 844.5,195.0 845.0,208.4 845.4,219.6 845.8,232.9 846.2,247.9 846.6,270.0 847.1,333.8 847.5,368.2 848.0,386.0" stroke="#008000"/>
<polyline points="849.0,392.0 849.5,384.8 850.0,365.5 850.5,337.1 851.0,270.1 851.5,253.4 852.0,242.3 852.5,235.5 853.0,230.4 853.5,228.0 854.0,224.9 854.5,225.0 855.0,223.0 855.4,222.0 855.9,219.1 856.3,216.2 856.7,214.7 857.1,213.3 857.6,213.4 858.0,212.4 858.5,214.4 859.0,218.9 859.5,221.3 860.0,221.5 860.4,221.3 860.9,219.0 861.3,218.9 861.7,217.9 862.1,218.8 862.6,217.4 863.0,215.8 863.4,212.7 863.9,211.4 864.3,209.2 864.7,207.6 865.1,205.9 865.6,203.5 866.0,203.6 866.5,204.1 867.0,205.1 867.5,205.2 868.0,205.3 868.4,207.8 868.8,212.3 869.2,221.9 869.6,229.2 870.1,239.5 870.5,251.3 871.0,269.8 871.4,301.9 871.7,336.3 872.1,361.2 872.6,380.8 873.0,390.5" stroke="#ff0000"/>
<polyline points="873.5,392.0 874.1,376.5 874.6,337.1 875.0,270.2 875.5,252.7 876.0,243.1 876.5,236.6 877.0,231.0 877.5,222.2 878.0,215.1 878.5,211.7 879.0,206.1 879.4,205.5 879.9,202.5 880.3,202.3 880.7,200.7 881.2,201.4 881.6,201.3 882.1,203.1 882.6,204.4 883.0,207.2 883.5,209.4 884.0,210.9 884.4,212.5 884.9,213.7 885.3,216.5 885.7,216.3 886.2,218.2 886.6,218.2 887.0,218.4 887.5,218.6 888.0,218.5 888.4,217.6 888.8,216.5 889.3,217.8 889.7,219.8 890.1,222.4 890.6,223.5 891.0,225.7 891.5,226.2 892.0,227.5 892.5,228.1 893.0,229.7 893.4,233.4 893.8,242.6 894.2,255.6 894.6,269.7 895.1,303.0 895.6,337.1 896.1,356.4 896.6,373.3 897.0,385.8 897.5,392.0" stroke="#00bfbf"/>
<polyline points="897.8,386.0 898.2,379.2 898.7,360.8 899.1,333.8 899.6,270.0 900.1,252.7 900.6,241.0 901.1,234.6 901.6,230.1 902.1,226.3 902.6,223.8 903.0,221.9 903.5,220.7 904.0,221.3 904.5,220.3 905.0,224.1 905.5,227.3 906.0,228.8 906.5,227.7 907.0,228.6 907.5,227.0 908.0,228.0 908.4,227.1 908.8,228.0 909.2,230.8 909.6,231.3 910.1,230.5 910.6,227.5 911.0,222.5 911.5,218.6 912.0,216.7 912.4,215.9 912.9,214.1 913.3,212.5 913.8,211.5 914.2,209.4 914.7,207.9 915.1,208.9 915.6,207.5 916.0,207.6 916.5,209.1 917.0,215.7 917.5,223.5 918.0,230.3 918.5,236.3 919.0,244.6 919.5,254.9 920.0,270.4 920.6,333.8 921.0,357.8 921.4,376.7 921.8,386.0" stroke="#bf00bf"/>
<polyline points="922.7,393.5 923.1,389.3 923.6,377.8 924.0,360.2 924.4,337.9 925.0,270.1 925.5,253.6 926.0,242.8 926.5,234.6 927.0,229.5 927.4,225.4 927.9,222.3 928.3,219.4 928.7,216.2 929.1,212.8 929.6,211.6 930.0,209.6 930.4,208.3 930.8,208.3 931.2,206.5 931.6,205.0 932.0,206.1 932.5,204.7 932.9,205.1 933.3,205.2 933.7,205.5 934.1,204.0 934.6,204.7 935.0,204.6 935.5,206.0 936.0,207.2 936.5,208.9 937.0,210.8 937.4,211.8 937.9,213.1 938.3,215.4 938.7,215.9 939.1,217.4 939.6,218.2 940.0,218.6 940.5,218.1 941.0,217.1 941.5,215.5 942.0,213.0 942.4,215.1 942.8,218.1 943.2,223.6 943.6,230.2 944.1,238.2 944.5,251.2 945.0,269.7 945.4,302.7 945.7,337.9 946.1,363.5 946.6,383.6 947.0,393.5" stroke="#bfbf00"/>
<polyline points="947.3,386.0 947.7,379.2 948.1,360.8 948.6,333.8 949.0,269.3 949.4,248.8 949.8,235.3 950.2,226.0 950.6,219.9 951.1,216.0 951.6,211.8 952.0,209.4 952.5,207.6 953.0,207.4 953.4,210.4 953.9,210.1 954.3,210.9 954.7,211.9 955.1,213.8 955.6,216.3 956.0,218.1 956.4,219.3 956.9,221.5 957.3,222.9 957.8,223.8 958.2,227.1 958.7,226.7 959.1,229.2 959.6,229.5 960.0,229.7 960.5,230.5 961.0,230.8 961.5,228.5 962.0,228.6 962.4,230.5 962.8,231.1 963.2,233.4 963.6,232.9 964.0,232.3 964.5,229.7 964.9,226.0 965.3,221.3 965.7,218.3 966.2,214.0 966.6,214.3 967.1,215.6 967.5,221.1 968.0,229.4 968.4,236.6 968.8,244.7 969.2,255.4 969.6,270.5 970.0,300.5 970.3,333.8 970.7,357.8 971.2,376.7 971.6,386.0" stroke="#000000"/>
<polyline points="956.6,401.0 957.0,399.0 957.5,393.3 957.9,384.3 958.3,372.5 958.7,358.3 959.1,342.1 959.6,305.5 960.0,270.3 960.5,254.7 961.0,245.6 961.5,235.9 962.0,227.8 962.4,222.1 962.8,217.0 963.2,212.4 963.6,207.9 964.1,203.9 964.6,199.4 965.1,196.6 965.6,196.2 966.1,196.6 966.6,198.7 967.0,201.5 967.5,203.1 968.0,203.8 968.5,204.1 969.0,203.7 969.5,203.7 970.0,203.4 970.5,204.2 971.0,202.6 971.4,202.3 971.9,201.5 972.4,200.6 972.8,201.8 973.3,202.8 973.7,204.0 974.1,203.4 974.6,204.9 975.0,207.8 975.5,208.3 976.0,209.7 976.5,212.4 977.0,214.6 977.5,224.9 977.9,243.3 978.4,270.1 978.8,305.5 979.2,341.2 979.6,368.1 980.1,389.1 980.6,399.5" stroke="#000000"/>
<polyline points="972.0,393.5 972.5,389.3 972.9,377.8 973.3,360.2 973.8,337.9 974.4,269.8 974.8,255.1 975.2,243.6 975.6,236.3 976.0,229.7 976.4,223.9 976.8,219.2 977.2,216.2 977.6,213.9 978.1,212.2 978.6,209.6 979.0,209.2 979.5,208.1 980.0,207.4 980.5,205.2 981.0,203.3 981.4,203.0 981.9,201.1 982.4,202.6 982.8,202.4 983.3,203.6 983.7,202.4 984.1,204.0 984.6,203.9 985.0,205.0 985.4,206.2 985.9,205.8 986.3,208.3 986.7,208.8 987.1,210.5 987.6,210.7 988.0,212.0 988.5,214.1 989.0,214.1 989.5,218.0 990.0,220.2 990.5,223.6 991.0,228.1 991.5,233.2 992.0,239.4 992.5,244.5 993.0,251.1 993.5,259.3 994.0,270.3 994.4,301.1 994.7,337.9 995.1,363.5 995.6,383.6 996.0,393.5" stroke="#0000ff"/>
<polyline points="981.0,399.5 981.5,396.7 981.9,388.7 982.4,376.3 982.8,360.2 983.2,341.2 983.6,304.4 984.0,269.4 984.5,256.3 985.0,246.1 985.4,238.7 985.9,233.9 986.4,229.2 986.8,226.5 987.3,223.2 987.7,221.0 988.1,218.0 988.6,214.0 989.0,212.6 989.4,210.4 989.9,209.5 990.3,208.1 990.7,205.3 991.2,203.8 991.6,202.2 992.1,202.1 992.6,200.9 993.1,200.5 993.6,199.0 994.0,199.5 994.5,199.0 994.9,199.6 995.3,199.6 995.7,200.5 996.1,202.8 996.6,201.9 997.0,203.0 997.4,204.0 997.9,202.4 998.3,203.3 998.7,204.2 999.2,203.9 999.6,206.6 1000.1,210.6 1000.5,219.3 1001.0,230.1 1001.5,239.6 1001.9,252.9 1002.4,270.1 1002.9,304.5 1003.3,340.4 1003.7,360.6 1004.2,378.3 1004.6,391.5 1005.0,398.0" stroke="#0000ff"/>
<polyline points="996.5,386.0 997.0,383.5 997.4,376.3 997.9,365.2 998.4,350.8 998.8,333.8 999.2,302.4 999.6,269.7 1000.1,251.0 1000.5,239.7 1001.0,230.2 1001.5,219.6 1002.0,214.7 1002.5,212.7 1003.0,210.8 1003.5,212.1 1004.0,211.1 1004.4,211.5 1004.9,212.9 1005.3,213.8 1005.7,214.7 1006.1,216.3 1006.6,217.0 1007.0,219.5 1007.5,220.2 1008.0,222.4 1008.5,225.6 1009.0,226.8 1009.5,229.5 1009.9,234.0 1010.4,234.8 1010.8,232.1 1011.2,227.8 1011.6,223.0 1012.0,219.5 1012.4,216.7 1012.9,216.0 1013.3,214.8 1013.7,214.3 1014.1,212.8 1014.6,212.3 1015.0,211.6 1015.4,212.9 1015.8,213.2 1016.2,215.3 1016.6,216.3 1017.1,223.3 1017.5,236.8 1018.0,248.3 1018.5,257.1 1019.0,269.4 1019.6,333.8 1020.0,357.8 1020.4,376.7 1020.8,386.0" stroke="#008000"/>
<polyline points="1005.8,386.0 1006.2,382.1 1006.6,371.2 1007.0,354.7 1007.5,333.8 1008.0,269.8 1008.5,260.4 1009.0,252.7 1009.5,249.2 1010.0,246.7 1010.4,243.6 1010.8,241.5 1011.2,239.9 1011.6,239.2 1012.1,240.5 1012.5,239.3 1013.0,239.5 1013.5,237.7 1014.0,233.7 1014.5,230.4 1015.0,227.0 1015.5,225.5 1016.0,222.7 1016.5,220.3 1017.0,217.5 1017.5,214.2 1018.0,212.9 1018.5,212.3 1019.0,210.7 1019.4,211.1 1019.9,210.6 1020.3,211.4 1020.7,210.2 1021.2,208.7 1021.6,210.4 1022.1,209.9 1022.6,206.9 1023.0,203.9 1023.5,200.9 1024.0,199.3 1024.4,197.6 1024.8,196.3 1025.2,196.1 1025.6,197.1 1026.1,200.4 1026.6,206.5 1027.1,218.9 1027.5,241.9 1028.0,270.5 1028.5,333.0 1029.0,366.9 1029.5,384.5" stroke="#008000"/>
<polyline points="1021.0,389.0 1021.5,386.4 1021.9,379.1 1022.4,367.7 1022.8,352.9 1023.2,335.4 1023.6,303.7 1024.0,270.2 1024.5,246.8 1024.9,230.6 1025.4,221.2 1025.8,217.4 1026.3,213.8 1026.7,212.1 1027.2,209.6 1027.6,210.0 1028.1,210.5 1028.5,212.9 1029.0,214.8 1029.5,212.9 1029.9,210.9 1030.4,209.7 1030.8,209.6 1031.2,212.2 1031.6,215.8 1032.0,217.3 1032.4,219.9 1032.8,221.9 1033.2,221.7 1033.6,222.9 1034.1,223.3 1034.6,222.7 1035.0,221.0 1035.5,219.9 1036.0,218.7 1036.4,218.7 1036.9,217.8 1037.3,218.1 1037.7,218.4 1038.1,217.8 1038.6,216.0 1039.0,216.9 1039.5,218.7 1040.0,221.5 1040.5,226.7 1041.0,230.1 1041.5,235.3 1042.0,244.4 1042.5,254.8 1043.0,270.1 1043.3,300.7 1043.7,335.4 1044.1,360.1 1044.6,379.5 1045.0,389.0" stroke="#ff0000"/>
<polyline points="1030.3,392.0 1030.7,389.3 1031.1,381.8 1031.5,370.2 1031.9,355.0 1032.3,337.1 1033.0,269.6 1033.5,242.1 1033.9,221.2 1034.4,209.1 1034.8,207.0 1035.2,204.3 1035.6,203.2 1036.0,201.9 1036.4,202.9 1036.9,202.6 1037.3,203.4 1037.7,204.1 1038.1,205.5 1038.6,205.5 1039.0,207.1 1039.4,206.1 1039.9,207.7 1040.3,209.2 1040.7,210.2 1041.1,213.5 1041.6,214.6 1042.0,216.7 1042.4,217.6 1042.9,218.5 1043.3,219.1 1043.7,220.1 1044.1,220.9 1044.6,222.1 1045.0,222.6 1045.4,223.6 1045.9,222.9 1046.3,224.0 1046.7,226.1 1047.1,227.3 1047.6,227.2 1048.0,227.1 1048.4,227.7 1048.8,226.4 1049.2,226.1 1049.6,226.3 1050.1,228.6 1050.5,233.1 1051.0,240.5 1051.5,246.3 1051.9,255.7 1052.4,269.7 1052.8,301.6 1053.1,337.1 1053.6,362.4 1054.0,382.2 1054.5,392.0" stroke="#ff0000"/>
<polyline points="1045.8,395.0 1046.2,390.8 1046.6,379.1 1047.0,361.3 1047.5,338.8 1048.0,270.4 1048.5,242.4 1048.9,223.5 1049.4,210.9 1049.8,201.0 1050.2,193.4 1050.6,191.7 1051.1,193.4 1051.5,194.6 1052.0,194.9 1052.5,195.6 1053.0,193.5 1053.5,191.6 1054.0,190.5 1054.4,191.4 1054.8,193.9 1055.2,195.2 1055.6,196.0 1056.1,194.9 1056.5,194.2 1057.0,194.8 1057.5,196.3 1058.0,200.7 1058.5,206.0 1059.0,209.2 1059.4,212.1 1059.9,214.3 1060.3,217.8 1060.7,220.6 1061.1,222.8 1061.6,225.3 1062.0,227.1 1062.5,230.7 1063.0,234.6 1063.5,237.7 1064.0,242.0 1064.5,245.7 1065.0,251.3 1065.5,255.6 1066.0,260.4 1066.5,264.4 1067.0,270.3 1067.4,300.9 1067.9,338.8 1068.3,358.5 1068.7,375.8 1069.1,388.6 1069.5,395.0" stroke="#00bfbf"/>
<polyline points="1055.0,387.5 1055.5,384.9 1055.9,377.7 1056.3,366.5 1056.8,351.9 1057.2,334.6 1057.6,300.9 1058.0,270.4 1058.5,259.7 1059.0,252.6 1059.5,246.6 1060.0,243.6 1060.4,241.8 1060.9,240.0 1061.3,239.2 1061.7,237.5 1062.1,237.1 1062.6,236.4 1063.0,234.7 1063.4,234.2 1063.9,231.3 1064.3,231.4 1064.7,230.6 1065.1,230.0 1065.6,228.7 1066.0,226.3 1066.4,225.2 1066.9,222.3 1067.3,219.9 1067.7,217.1 1068.1,214.4 1068.6,210.8 1069.0,209.7 1069.4,205.9 1069.9,204.6 1070.3,203.0 1070.7,201.1 1071.2,200.2 1071.6,198.2 1072.1,196.0 1072.6,192.0 1073.0,188.5 1073.5,184.2 1074.0,183.7 1074.4,186.8 1074.8,194.0 1075.2,202.2 1075.6,210.2 1076.1,224.1 1076.5,244.7 1077.0,269.9 1077.3,302.9 1077.7,335.4 1078.1,360.1 1078.6,379.5 1079.0,389.0" stroke="#00bfbf"/>
<polyline points="1070.0,392.0 1070.5,384.8 1071.0,365.5 1071.5,337.1 1072.0,269.3 1072.4,247.2 1072.8,231.1 1073.2,219.1 1073.6,209.7 1074.1,199.0 1074.5,189.7 1075.0,185.1 1075.5,184.8 1076.0,184.4 1076.5,185.0 1077.0,183.1 1077.5,187.1 1078.0,195.1 1078.5,202.7 1079.0,205.8 1079.4,205.6 1079.9,205.5 1080.3,206.7 1080.7,207.9 1081.1,208.4 1081.6,209.2 1082.0,210.4 1082.4,211.6 1082.9,212.0 1083.3,211.9 1083.7,214.4 1084.1,215.6 1084.6,216.4 1085.0,217.1 1085.4,220.6 1085.9,225.3 1086.3,228.4 1086.7,230.5 1087.1,233.7 1087.6,235.5 1088.0,238.1 1088.5,238.6 1088.9,238.8 1089.4,239.1 1089.8,243.4 1090.2,249.3 1090.6,259.2 1091.0,270.6 1091.5,302.2 1092.0,337.1 1092.5,356.4 1093.0,373.3 1093.5,385.8 1094.0,392.0" stroke="#bf00bf"/>
<polyline points="1107.1,352.5 1107.1,108.0" stroke="#bfbfbf"/>
<polyline points="1119.8,196.0 1119.8,214.0" stroke="#bfbfbf"/>
<polyline points="1094.9,262.0 1095.1,20.0 1095.2,250.0 1095.4,268.5 1095.5,209.7 1095.6,246.8 1095.6,230.1 1095.7,265.4 1095.8,198.5 1095.9,264.1 1096.0,204.4 1096.0,255.7 1096.1,235.8 1096.2,231.1 1096.3,221.4 1096.4,241.4 1096.4,189.8 1096.5,208.5 1096.6,203.5 1096.7,213.4 1096.8,197.6 1096.8,217.1 1096.9,195.0 1097.0,202.0 1097.1,202.7 1097.2,206.8 1097.2,204.3 1097.3,215.7 1097.4,190.6 1097.5,214.4 1097.6,197.1 1097.6,211.2 1097.7,209.4 1097.8,214.5 1097.9,203.9 1098.0,217.2 1098.0,199.9 1098.1,227.4 1098.2,190.0 1098.3,223.3 1098.4,194.8 1098.4,220.8 1098.5,211.4 1098.6,248.8 1098.7,192.4 1098.8,255.5 1098.8,214.6 1098.9,241.6 1099.0,197.9 1099.1,271.7 1099.2,220.7 1099.2,258.3 1099.3,211.4 1099.4,282.6 1099.5,222.9 1099.6,289.4 1099.6,222.1 1099.7,289.5 1099.8,249.0 1099.9,289.9 1100.0,251.5 1100.0,300.2 1100.1,238.6 1100.2,308.7 1100.3,263.9 1100.4,300.5 1100.4,247.5 1100.5,314.8 1100.6,255.0 1100.7,306.6 1100.8,257.3 1100.8,317.9 1100.9,267.1 1101.0,303.0 1101.1,262.4 1101.2,323.9 1101.2,267.6 1101.3,322.6 1101.4,278.7 1101.5,327.7 1101.6,285.8 1101.6,319.9 1101.7,282.1 1101.8,331.2 1101.9,298.2 1102.0,331.9 1102.0,296.8 1102.1,334.3 1102.2,290.1 1102.3,327.6 1102.4,294.6 1102.4,324.7 1102.5,300.9 1102.6,339.5 1102.7,301.9 1102.8,339.3 1102.8,311.0 1102.9,331.9 1103.0,309.5 1103.1,343.0 1103.2,312.1 1103.2,335.1 1103.3,313.3 1103.4,348.0 1103.5,314.6 1103.6,347.7 1103.6,325.7 1103.7,341.5 1103.8,324.0 1103.9,340.3 1104.0,329.3 1104.0,351.9 1104.1,321.1 1104.2,344.3 1104.3,328.6 1104.4,355.6 1104.4,328.8 1104.5,355.2 1104.6,326.8 1104.7,356.7 1104.8,327.1 1104.8,359.2 1104.9,329.2 1105.0,359.0 1105.1,339.8 1105.2,361.4 1105.2,341.0 1105.3,362.3 1105.4,332.8 1105.5,356.3 1105.6,339.6 1105.6,362.7 1105.7,332.4 1105.8,363.0 1105.9,334.5 1106.0,356.5 1106.0,333.9 1106.1,365.4 1106.2,343.4 1106.3,367.7 1106.4,336.5 1106.4,360.6 1106.5,342.0 1106.6,369.0 1106.7,335.4 1106.8,369.7 1106.8,345.7 1106.9,369.6 1107.0,342.1 1107.1,361.1 1107.2,336.8 1107.2,370.9 1107.3,347.3 1107.4,367.4 1107.5,336.1 1107.6,365.1 1107.6,336.5 1107.7,369.9 1107.8,334.7 1107.9,362.9 1108.0,344.6 1108.0,364.3 1108.1,344.6 1108.2,368.5 1108.3,333.7 1108.4,365.0 1108.4,343.7 1108.5,356.0 1108.6,333.8 1108.7,365.5 1108.8,333.7 1108.8,362.6 1108.9,341.2 1109.0,364.3 1109.1,337.9 1109.2,356.9 1109.2,336.9 1109.3,354.8 1109.4,331.9 1109.5,358.9 1109.6,327.4 1109.6,357.1 1109.7,332.0 1109.8,356.9 1109.9,324.0 1110.0,349.0 1110.0,322.9 1110.1,353.8 1110.2,320.9 1110.3,348.8 1110.4,320.8 1110.4,339.9 1110.5,326.7 1110.6,337.2 1110.7,317.6 1110.8,343.9 1110.8,315.7 1110.9,338.4 1111.0,318.6 1111.1,335.6 1111.2,313.4 1111.2,332.6 1111.3,314.4 1111.4,327.4 1111.5,313.5 1111.6,322.9 1111.6,308.7 1111.7,325.8 1111.8,306.9 1111.9,323.0 1112.0,299.5 1112.0,320.3 1112.1,297.6 1112.2,319.1 1112.3,288.5 1112.4,316.7 1112.4,283.8 1112.5,306.0 1112.6,283.2 1112.7,311.8 1112.8,276.8 1112.8,297.7 1112.9,274.0 1113.0,307.7 1113.1,275.3 1113.2,298.9 1113.2,276.0 1113.3,301.4 1113.4,260.7 1113.5,288.0 1113.6,263.7 1113.6,281.9 1113.7,249.0 1113.8,290.0 1113.9,245.8 1114.0,287.3 1114.0,256.7 1114.1,279.2 1114.2,252.0 1114.3,278.9 1114.4,246.7 1114.4,274.4 1114.5,230.5 1114.6,264.1 1114.7,238.9 1114.8,269.2 1114.8,233.6 1114.9,251.9 1115.0,216.6 1115.1,255.7 1115.2,209.1 1115.2,256.5 1115.3,206.6 1115.4,240.3 1115.5,215.7 1115.6,249.3 1115.6,192.6 1115.7,242.7 1115.8,212.2 1115.9,239.9 1116.0,198.6 1116.0,232.1 1116.1,209.7 1116.2,218.3 1116.3,193.1 1116.4,229.2 1116.4,198.6 1116.5,218.5 1116.6,204.9 1116.7,224.7 1116.8,194.5 1116.8,216.3 1116.9,198.6 1117.0,225.3 1117.1,197.1 1117.2,208.3 1117.2,197.5 1117.3,224.0 1117.4,200.0 1117.5,234.5 1117.6,217.8 1117.6,215.6 1117.7,200.7 1117.8,240.1 1117.9,212.8 1118.0,240.0 1118.0,192.5 1118.1,219.0 1118.2,202.5 1118.3,221.8 1118.4,202.0 1118.4,219.6 1118.5,203.7 1118.6,240.9 1118.7,192.6 1118.8,230.6 1118.8,209.7 1118.9,218.7 1119.0,193.8 1119.1,228.4 1119.2,200.9 1119.2,232.0 1119.3,195.0 1119.4,238.1 1119.5,205.6 1119.6,218.1 1119.6,194.2 1119.7,232.4 1119.8,215.6" stroke="#bfbf00"/>
<polyline points="1107.1,352.5 1107.1,157.0" stroke="#bfbf00" stroke-width="1.9"/>
<polyline points="1079.7,392.0 1080.1,389.3 1080.6,381.8 1081.0,370.2 1081.4,355.0 1081.9,337.1 1082.2,303.8 1082.6,269.7 1083.1,250.8 1083.5,237.3 1084.0,229.5 1084.4,224.7 1084.8,221.7 1085.2,218.8 1085.6,216.5 1086.0,215.4 1086.4,214.6 1086.9,213.6 1087.3,211.7 1087.7,211.5 1088.2,211.2 1088.6,211.1 1089.0,211.6 1089.5,213.7 1090.0,215.8 1090.5,217.3 1091.0,217.8 1091.4,216.6 1091.9,217.3 1092.3,217.7 1092.7,218.3 1093.1,217.1 1093.6,217.0 1094.0,215.8 1094.4,216.6 1094.9,216.1 1095.3,215.0 1095.7,213.8 1096.1,211.7 1096.6,210.7 1097.0,209.5 1097.5,211.3 1098.0,211.8 1098.5,213.3 1099.0,216.4 1099.5,221.1 1100.0,229.6 1100.5,246.3 1101.0,270.3 1101.5,304.7 1102.0,337.1 1102.5,356.4 1103.0,373.3 1103.5,385.8 1104.0,392.0" stroke="#bf00bf"/>
<polyline points="1103.8,392.0 1104.2,389.3 1104.6,381.8 1105.0,370.2 1105.4,355.0 1105.8,337.1 1106.5,269.5 1107.0,242.3 1107.6,224.2 1108.1,214.9 1108.5,208.2 1109.0,204.5 1109.4,202.3 1109.9,201.8 1110.3,199.6 1110.7,198.3 1111.2,195.9 1111.6,198.5 1112.0,198.8 1112.5,199.1 1112.9,201.9 1113.4,203.6 1113.8,207.1 1114.2,208.2 1114.7,210.8 1115.1,211.7 1115.6,212.7 1116.0,212.5 1116.5,214.4 1117.0,214.5 1117.5,215.6 1118.0,216.9 1118.5,217.9 1119.0,220.6 1119.5,220.8 1120.0,221.8 1120.5,222.4 1121.0,224.5 1121.5,227.1 1122.0,228.7 1122.5,230.5 1123.0,231.3 1123.5,231.4 1124.0,233.6 1124.4,240.7 1124.8,249.7 1125.2,258.7 1125.6,270.2 1126.1,302.5 1126.6,336.6 1127.1,355.7 1127.6,372.4 1128.0,384.8 1128.5,391.0" stroke="#bfbf00"/>
<polyline points="1128.6,387.5 1129.0,383.5 1129.5,372.5 1130.0,355.8 1130.4,334.6 1131.0,270.0 1131.5,246.3 1131.9,230.0 1132.4,220.4 1132.8,214.8 1133.3,210.8 1133.7,207.5 1134.2,206.5 1134.6,205.8 1135.1,207.1 1135.6,210.5 1136.0,212.5 1136.5,216.2 1137.0,217.8 1137.5,219.3 1137.9,217.0 1138.4,217.6 1138.8,219.9 1139.3,223.3 1139.7,225.9 1140.2,228.1 1140.6,228.3 1141.1,228.0 1141.6,225.4 1142.0,223.1 1142.5,221.3 1143.0,220.5 1143.5,222.2 1144.0,220.5 1144.5,221.5 1145.0,222.3 1145.5,223.1 1146.0,222.1 1146.5,219.1 1147.0,218.3 1147.4,218.0 1147.8,222.0 1148.2,226.0 1148.6,229.8 1149.1,234.1 1149.6,240.1 1150.0,246.9 1150.5,256.3 1151.0,270.3 1151.3,299.6 1151.7,333.8 1152.1,357.8 1152.6,376.7 1153.0,386.0" stroke="#000000"/>
<polyline points="1153.5,393.5 1154.0,389.3 1154.4,377.8 1154.9,360.2 1155.4,337.9 1156.0,269.4 1156.5,250.2 1157.0,236.5 1157.5,227.1 1158.0,222.6 1158.5,219.3 1159.0,218.8 1159.5,215.9 1160.0,213.9 1160.5,210.9 1161.0,205.8 1161.5,202.9 1162.0,201.2 1162.4,201.8 1162.9,202.2 1163.3,201.5 1163.7,202.2 1164.1,201.5 1164.6,201.4 1165.0,201.1 1165.4,190.9 1165.8,204.3 1166.2,207.4 1166.7,208.1 1167.1,211.6 1167.6,213.0 1168.0,216.6 1168.4,217.5 1168.9,219.2 1169.3,220.8 1169.7,223.0 1170.1,223.4 1170.6,224.7 1171.0,225.2 1171.5,224.5 1172.0,222.8 1172.5,221.4 1173.0,218.7 1173.5,224.0 1173.9,231.4 1174.4,240.7 1174.8,248.2 1175.2,256.7 1175.6,270.4 1176.3,337.9 1176.7,363.5 1177.1,383.6 1177.5,393.5" stroke="#0000ff"/>
<polyline points="1178.0,386.0 1178.5,379.2 1179.0,360.8 1179.5,333.8 1180.0,270.4 1180.4,245.8 1180.8,226.2 1181.2,213.0 1181.6,205.8 1182.1,204.1 1182.6,203.5 1183.0,203.1 1183.5,203.1 1184.0,203.5 1184.4,204.4 1184.9,206.0 1185.3,206.0 1185.7,209.6 1186.1,211.5 1186.6,214.9 1187.0,215.3 1187.4,217.3 1187.9,219.6 1188.3,222.0 1188.8,223.6 1189.2,225.0 1189.7,227.6 1190.1,228.0 1190.6,228.1 1191.0,229.0 1191.5,229.1 1191.9,228.1 1192.4,227.9 1192.8,228.2 1193.3,231.1 1193.7,233.5 1194.2,236.0 1194.6,238.2 1195.1,236.4 1195.6,232.7 1196.0,226.9 1196.5,223.3 1197.0,222.6 1197.4,223.1 1197.8,226.4 1198.2,230.5 1198.6,234.4 1199.1,241.6 1199.5,252.4 1200.0,269.9 1200.3,300.6 1200.7,333.8 1201.1,357.8 1201.6,376.7 1202.0,386.0" stroke="#008000"/>
<polyline points="1202.7,392.0 1203.1,387.9 1203.6,376.5 1204.0,359.1 1204.4,337.1 1205.0,269.8 1205.5,251.6 1205.9,239.8 1206.4,230.1 1206.8,222.7 1207.2,217.5 1207.6,212.9 1208.0,209.7 1208.5,209.2 1209.0,208.7 1209.5,208.3 1210.0,207.1 1210.4,206.9 1210.9,205.1 1211.3,204.2 1211.7,202.3 1212.2,201.5 1212.6,201.5 1213.1,201.0 1213.6,201.4 1214.0,203.7 1214.5,204.3 1215.0,206.6 1215.4,207.4 1215.9,207.4 1216.3,208.1 1216.7,208.8 1217.1,211.0 1217.6,211.6 1218.0,212.5 1218.4,214.5 1218.9,215.9 1219.3,218.5 1219.7,220.7 1220.1,224.1 1220.6,227.1 1221.0,230.8 1221.5,234.3 1222.0,238.0 1222.5,243.4 1223.0,248.2 1223.5,254.6 1223.9,260.9 1224.4,269.8 1224.9,301.1 1225.3,337.1 1225.7,356.4 1226.2,373.3 1226.6,385.8 1227.0,392.0" stroke="#ff0000"/>
<polyline points="1227.3,386.0 1227.7,379.2 1228.2,360.8 1228.6,333.8 1229.0,270.0 1229.5,252.9 1230.0,242.1 1230.5,235.1 1231.0,230.2 1231.5,225.3 1232.0,221.3 1232.5,219.7 1233.0,216.1 1233.5,214.9 1234.0,213.4 1234.5,212.8 1235.0,212.9 1235.5,213.6 1236.0,218.4 1236.5,221.8 1237.0,222.1 1237.5,222.0 1238.0,223.2 1238.5,223.2 1239.0,223.2 1239.4,223.8 1239.8,228.3 1240.2,233.5 1240.6,234.7 1241.1,233.2 1241.5,229.4 1242.0,222.4 1242.6,196.1 1243.0,222.0 1243.5,217.2 1244.0,212.3 1244.5,211.9 1245.0,210.5 1245.5,210.7 1246.0,209.7 1246.5,210.2 1246.9,212.0 1247.4,214.9 1247.9,225.2 1248.4,239.2 1248.8,247.1 1249.2,256.7 1249.6,270.1 1249.9,300.8 1250.3,334.6 1250.7,359.0 1251.2,378.1 1251.6,387.5" stroke="#00bfbf"/>
<polyline points="1252.0,389.0 1252.5,382.0 1253.0,363.1 1253.5,335.4 1254.0,270.1 1254.4,253.9 1254.8,242.8 1255.2,234.9 1255.6,229.7 1256.1,224.6 1256.6,221.0 1257.1,218.1 1257.6,218.0 1258.1,218.2 1258.5,219.7 1259.0,220.7 1259.4,220.4 1259.9,219.8 1260.3,218.1 1260.7,216.4 1261.2,214.6 1261.6,213.9 1262.1,214.7 1262.6,218.1 1263.0,220.3 1263.5,222.4 1264.0,224.1 1264.4,223.7 1264.9,222.9 1265.3,221.8 1265.7,221.6 1266.1,218.6 1266.6,218.2 1267.0,215.4 1267.4,214.2 1267.9,213.3 1268.3,211.0 1268.7,212.0 1269.2,210.0 1269.6,210.1 1270.1,210.7 1270.5,214.4 1271.0,219.5 1271.5,224.8 1271.9,233.0 1272.4,241.2 1272.8,246.5 1273.2,252.5 1273.6,259.0 1274.0,269.4 1274.3,300.5 1274.7,335.4 1275.1,360.1 1275.6,379.5 1276.0,389.0" stroke="#bf00bf"/>
<polyline points="1276.5,396.5 1277.0,389.1 1277.5,369.0 1278.1,339.6 1278.6,270.5 1279.1,251.6 1279.5,240.1 1280.0,230.6 1280.5,219.7 1280.9,210.2 1281.4,208.5 1281.8,207.7 1282.2,208.0 1282.6,208.0 1283.0,207.0 1283.4,207.1 1283.9,205.2 1284.3,202.9 1284.7,200.1 1285.2,199.1 1285.6,197.9 1286.1,199.0 1286.6,197.8 1287.0,198.6 1287.5,197.9 1288.0,198.4 1288.5,200.5 1289.0,202.6 1289.5,206.0 1290.0,207.0 1290.5,209.1 1291.0,211.6 1291.5,213.6 1292.0,216.7 1292.5,220.0 1293.0,223.5 1293.4,227.3 1293.9,230.0 1294.4,233.4 1294.8,235.1 1295.2,235.9 1295.6,237.8 1296.0,238.3 1296.4,242.5 1296.8,247.7 1297.2,254.7 1297.6,260.2 1298.0,263.5 1298.4,270.0 1298.8,301.5 1299.2,339.6 1299.8,365.8 1300.3,386.4 1300.8,396.5" stroke="#bfbf00"/>
<polyline points="1301.0,393.5 1301.5,389.3 1301.9,377.8 1302.4,360.2 1302.8,337.9 1303.4,270.4 1303.8,247.7 1304.2,229.1 1304.6,215.8 1305.0,207.7 1305.5,204.2 1306.0,202.5 1306.5,199.3 1307.0,197.8 1307.5,196.4 1308.0,200.5 1308.5,204.0 1309.0,209.0 1309.4,208.6 1309.9,210.0 1310.3,210.1 1310.7,209.2 1311.2,208.6 1311.6,208.4 1312.1,209.0 1312.6,209.8 1313.0,210.2 1313.5,211.5 1314.0,212.0 1314.5,212.1 1315.0,211.6 1315.4,211.3 1315.9,212.4 1316.4,211.6 1316.8,213.7 1317.2,218.0 1317.6,223.2 1318.0,227.2 1318.5,228.0 1319.0,229.9 1319.5,230.2 1320.0,232.5 1320.4,236.3 1320.8,241.3 1321.3,248.1 1321.7,255.0 1322.1,262.0 1322.5,269.4 1323.0,302.2 1323.5,338.5 1324.0,358.2 1324.5,375.4 1324.9,388.2 1325.4,394.5" stroke="#000000"/>
<polyline points="1325.4,262.0 1325.6,20.0 1325.8,250.0 1325.9,225.9 1326.0,194.2 1326.1,264.5 1326.1,232.4 1326.2,225.4 1326.3,206.9 1326.4,266.5 1326.5,231.4 1326.5,254.8 1326.6,225.1 1326.7,229.9 1326.8,210.9 1326.9,223.8 1326.9,200.1 1327.0,212.8 1327.1,193.7 1327.2,202.5 1327.3,201.1 1327.3,215.1 1327.4,190.6 1327.5,211.0 1327.6,195.8 1327.7,210.1 1327.7,189.6 1327.8,214.8 1327.9,198.8 1328.0,202.9 1328.1,188.8 1328.1,211.3 1328.2,202.0 1328.3,222.2 1328.4,205.5 1328.5,224.4 1328.5,200.5 1328.6,218.7 1328.7,202.9 1328.8,227.2 1328.9,200.5 1328.9,224.0 1329.0,203.7 1329.1,225.2 1329.2,207.3 1329.3,233.9 1329.3,201.7 1329.4,232.6 1329.5,214.5 1329.6,244.6 1329.7,225.5 1329.7,234.6 1329.8,214.2 1329.9,254.0 1330.0,217.7 1330.1,257.5 1330.1,218.0 1330.2,258.2 1330.3,221.2 1330.4,261.3 1330.5,228.2 1330.5,267.3 1330.6,233.6 1330.7,270.4 1330.8,238.8 1330.9,265.0 1330.9,238.1 1331.0,276.9 1331.1,241.1 1331.2,277.0 1331.3,253.1 1331.3,280.6 1331.4,253.6 1331.5,269.8 1331.6,254.0 1331.7,276.6 1331.7,250.8 1331.8,279.1 1331.9,257.2 1332.0,286.3 1332.1,270.9 1332.1,308.5 1332.2,271.5 1332.3,299.0 1332.4,263.2 1332.5,315.7 1332.5,276.9 1332.6,320.2 1332.7,284.3 1332.8,322.0 1332.9,284.8 1332.9,325.6 1333.0,280.4 1333.1,313.5 1333.2,279.9 1333.3,330.1 1333.3,286.8 1333.4,332.2 1333.5,285.5 1333.6,335.2 1333.7,289.1 1333.7,322.9 1333.8,299.3 1333.9,326.1 1334.0,295.1 1334.1,331.0 1334.1,297.7 1334.2,337.9 1334.3,306.4 1334.4,341.9 1334.5,314.3 1334.5,341.0 1334.6,310.8 1334.7,336.2 1334.8,309.1 1334.9,335.4 1334.9,317.0 1335.0,348.2 1335.1,322.8 1335.2,350.9 1335.3,329.6 1335.3,349.4 1335.4,322.0 1335.5,348.2 1335.6,325.5 1335.7,356.3 1335.7,332.2 1335.8,358.2 1335.9,336.1 1336.0,359.1 1336.1,336.0 1336.1,351.9 1336.2,337.5 1336.3,358.7 1336.4,336.6 1336.5,364.6 1336.5,337.1 1336.6,365.6 1336.7,342.3 1336.8,365.2 1336.9,342.6 1336.9,360.5 1337.0,341.7 1337.1,368.9 1337.2,347.1 1337.3,370.6 1337.3,344.6 1337.4,370.6 1337.5,346.1 1337.6,371.8 1337.7,346.1 1337.7,370.8 1337.8,349.6 1337.9,374.9 1338.0,350.4 1338.1,373.3 1338.1,345.9 1338.2,365.9 1338.3,346.5 1338.4,373.1 1338.5,346.5 1338.5,368.3 1338.6,352.1 1338.7,365.2 1338.8,345.3 1338.9,369.0 1338.9,342.5 1339.0,364.6 1339.1,344.2 1339.2,366.1 1339.3,343.8 1339.3,364.2 1339.4,346.9 1339.5,359.8 1339.6,337.9 1339.7,355.8 1339.7,336.0 1339.8,359.2 1339.9,336.2 1340.0,359.7 1340.1,333.3 1340.1,352.9 1340.2,330.2 1340.3,354.0 1340.4,336.2 1340.5,355.2 1340.5,324.5 1340.6,349.8 1340.7,323.9 1340.8,347.4 1340.9,325.6 1340.9,349.3 1341.0,316.0 1341.1,346.2 1341.2,311.9 1341.3,335.3 1341.3,316.3 1341.4,336.1 1341.5,305.7 1341.6,331.1 1341.7,309.7 1341.7,334.9 1341.8,306.7 1341.9,332.6 1342.0,297.2 1342.1,333.3 1342.1,294.2 1342.2,331.8 1342.3,292.0 1342.4,322.1 1342.5,294.5 1342.5,318.0 1342.6,292.5 1342.7,325.9 1342.8,287.2 1342.9,322.5 1342.9,289.8 1343.0,319.5 1343.1,278.9 1343.2,315.6 1343.3,290.4 1343.3,319.8 1343.4,285.6 1343.5,319.0 1343.6,271.7 1343.7,316.5 1343.7,277.5 1343.8,300.5 1343.9,275.3 1344.0,311.2 1344.1,275.7 1344.1,303.4 1344.2,261.8 1344.3,285.8 1344.4,259.4 1344.5,282.4 1344.5,252.0 1344.6,269.3 1344.7,241.3 1344.8,268.4 1344.9,238.3 1344.9,263.7 1345.0,227.5 1345.1,263.5 1345.2,224.2 1345.3,263.2 1345.3,216.6 1345.4,249.4 1345.5,207.4 1345.6,233.9 1345.7,203.3 1345.7,259.4 1345.8,199.3 1345.9,225.5 1346.0,203.2 1346.1,247.7 1346.1,191.9 1346.2,244.9 1346.3,209.4 1346.4,225.7 1346.5,209.0 1346.5,222.3 1346.6,190.4 1346.7,227.1 1346.8,197.9 1346.9,219.5 1346.9,213.6 1347.0,216.9 1347.1,190.4 1347.2,217.7 1347.3,217.3 1347.3,215.0 1347.4,191.2 1347.5,237.8 1347.6,191.3 1347.7,241.1 1347.7,214.7 1347.8,219.7 1347.9,206.8 1348.0,219.2 1348.1,206.7 1348.1,235.8 1348.2,191.1 1348.3,240.1 1348.4,211.2 1348.5,237.9 1348.5,196.6 1348.6,232.1 1348.7,189.7 1348.8,236.6 1348.9,195.5 1348.9,223.0 1349.0,198.0 1349.1,235.0 1349.2,219.2 1349.3,229.8 1349.3,214.8 1349.4,226.2 1349.5,189.8 1349.6,232.4 1349.7,200.1 1349.7,221.0 1349.8,197.4 1349.9,223.4 1350.0,203.4 1350.1,237.6 1350.1,215.2 1350.2,240.2 1350.3,213.6 1350.4,238.6 1350.5,189.5 1350.5,237.9 1350.6,211.4 1350.7,213.7 1350.8,189.5 1350.9,230.2 1350.9,201.9 1351.0,220.2 1351.1,193.0 1351.2,230.0 1351.3,197.4 1351.3,219.0 1351.4,194.9 1351.5,215.0 1351.6,195.6 1351.7,237.6 1351.7,209.1 1351.8,229.9 1351.9,191.3 1352.0,225.6" stroke="#0000ff"/>
<polyline points="1338.0,356.5 1338.0,20.0" stroke="#0000ff" stroke-width="1.9"/>
<polyline points="242.8,215.5 242.8,218.0" stroke="#bfbfbf"/>
<polyline points="1165.4,189.5 1165.4,192.0" stroke="#bfbfbf"/>
<polyline points="1242.6,193.5 1242.6,196.0" stroke="#bfbfbf"/>
</g>
<g stroke="#000" stroke-width="0.8">
<line x1="243.50" y1="450.50" x2="243.50" y2="444.30"/>
<line x1="243.50" y1="50.50" x2="243.50" y2="56.70"/>
<line x1="397.50" y1="450.50" x2="397.50" y2="444.30"/>
<line x1="397.50" y1="50.50" x2="397.50" y2="56.70"/>
<line x1="550.50" y1="450.50" x2="550.50" y2="444.30"/>
<line x1="550.50" y1="50.50" x2="550.50" y2="56.70"/>
<line x1="704.50" y1="450.50" x2="704.50" y2="444.30"/>
<line x1="704.50" y1="50.50" x2="704.50" y2="56.70"/>
<line x1="858.50" y1="450.50" x2="858.50" y2="444.30"/>
<line x1="858.50" y1="50.50" x2="858.50" y2="56.70"/>
<line x1="1011.50" y1="450.50" x2="1011.50" y2="444.30"/>
<line x1="1011.50" y1="50.50" x2="1011.50" y2="56.70"/>
<line x1="1165.50" y1="450.50" x2="1165.50" y2="444.30"/>
<line x1="1165.50" y1="50.50" x2="1165.50" y2="56.70"/>
<line x1="1319.50" y1="450.50" x2="1319.50" y2="444.30"/>
<line x1="1319.50" y1="50.50" x2="1319.50" y2="56.70"/>
<line x1="188.50" y1="450.50" x2="194.70" y2="450.50"/>
<line x1="1350.50" y1="450.50" x2="1344.30" y2="450.50"/>
<line x1="188.50" y1="350.50" x2="194.70" y2="350.50"/>
<line x1="1350.50" y1="350.50" x2="1344.30" y2="350.50"/>
<line x1="188.50" y1="250.50" x2="194.70" y2="250.50"/>
<line x1="1350.50" y1="250.50" x2="1344.30" y2="250.50"/>
<line x1="188.50" y1="150.50" x2="194.70" y2="150.50"/>
<line x1="1350.50" y1="150.50" x2="1344.30" y2="150.50"/>
<line x1="188.50" y1="50.50" x2="194.70" y2="50.50"/>
<line x1="1350.50" y1="50.50" x2="1344.30" y2="50.50"/>
</g>
<rect x="188.5" y="50.5" width="1162.0" height="400.0" fill="none" stroke="#000" stroke-width="1.39"/>
<g>
<text x="243.40" y="467.6" text-anchor="middle">23600</text>
<text x="397.11" y="467.6" text-anchor="middle">23800</text>
<text x="550.83" y="467.6" text-anchor="middle">24000</text>
<text x="704.54" y="467.6" text-anchor="middle">24200</text>
<text x="858.26" y="467.6" text-anchor="middle">24400</text>
<text x="1011.97" y="467.6" text-anchor="middle">24600</text>
<text x="1165.68" y="467.6" text-anchor="middle">24800</text>
<text x="1319.40" y="467.6" text-anchor="middle">25000</text>
<text x="183.3" y="454.30" text-anchor="end">0.0</text>
<text x="183.3" y="354.30" text-anchor="end">0.5</text>
<text x="183.3" y="254.30" text-anchor="end">1.0</text>
<text x="183.3" y="154.30" text-anchor="end">1.5</text>
<text x="183.3" y="54.30" text-anchor="end">2.0</text>
<text x="770.2" y="489.5" text-anchor="middle">Frequency [MHz]</text>
<text transform="translate(146.7,250.2) rotate(-90)" text-anchor="middle">Amplitude [arbitrary units]</text>
<text x="1333.0" y="75" text-anchor="end">BR - LL</text>
</g>
</svg>
</body></html>
